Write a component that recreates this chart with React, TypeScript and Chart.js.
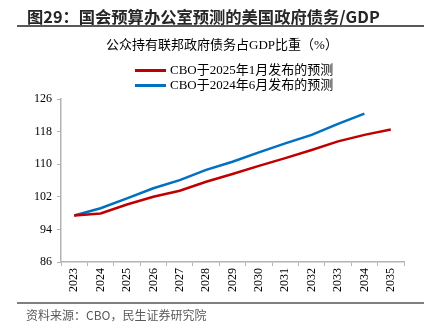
import React, { useEffect, useRef } from "react";
import { Chart, registerables } from "chart.js";

Chart.register(...registerables);

const years = ["2023","2024","2025","2026","2027","2028","2029","2030","2031","2032","2033","2034","2035"];
const jan2025 = [97.4, 97.9, 100.1, 102.0, 103.5, 105.7, 107.6, 109.6, 111.5, 113.5, 115.6, 117.2, 118.5];
const jun2024 = [97.4, 99.2, 101.6, 104.1, 106.1, 108.6, 110.6, 112.9, 115.1, 117.2, 119.9, 122.4, null];
const seriesNames = ["CBO于2025年1月发布的预测", "CBO于2024年6月发布的预测"];
const seriesColors = ["#C00000", "#0070C0"];
const yTicks = [86, 94, 102, 110, 118, 126];

const mainTitle = "图29：国会预算办公室预测的美国政府债务/GDP";
const chartTitle = "公众持有联邦政府债务占GDP比重（%）";
const source = "资料来源：CBO，民生证券研究院";

const serif = "'Liberation Serif', 'Times New Roman', 'Noto Sans CJK SC', serif";
const sans = "'Noto Sans CJK SC', 'Noto Sans', sans-serif";

export default function App() {
  const ref = useRef<HTMLCanvasElement | null>(null);

  useEffect(() => {
    if (!ref.current) return;
    const axisColor = "#b3b3b3";
    const chart = new Chart(ref.current, {
      type: "line",
      data: {
        labels: years,
        datasets: [
          {
            label: seriesNames[0],
            data: jan2025,
            borderColor: seriesColors[0],
            backgroundColor: seriesColors[0],
            borderWidth: 2.5,
            pointRadius: 0,
            tension: 0,
            fill: false,
          },
          {
            label: seriesNames[1],
            data: jun2024,
            borderColor: seriesColors[1],
            backgroundColor: seriesColors[1],
            borderWidth: 2.5,
            pointRadius: 0,
            tension: 0,
            fill: false,
          },
        ],
      },
      options: {
        responsive: false,
        animation: false,
        events: [],
        layout: { padding: { left: 0, top: 99, right: 29, bottom: 31 } },
        plugins: {
          legend: { display: false },
          title: { display: false },
          tooltip: { enabled: false },
        },
        scales: {
          x: {
            type: "category",
            offset: true,
            grid: {
              display: true,
              offset: true,
              drawOnChartArea: false,
              drawTicks: true,
              tickLength: 4,
              color: axisColor,
            },
            border: { display: true, color: axisColor, width: 1.5 },
            ticks: {
              autoSkip: false,
              maxRotation: 90,
              minRotation: 90,
              padding: 2,
              color: "#000",
              font: { family: serif, size: 12 },
            },
            afterFit: (s: any) => {
              s.height = 40;
            },
          },
          y: {
            min: 86,
            max: 126,
            afterBuildTicks: (s: any) => {
              s.ticks = yTicks.map((v) => ({ value: v }));
            },
            grid: {
              display: true,
              drawOnChartArea: false,
              drawTicks: true,
              tickLength: 4,
              color: axisColor,
            },
            border: { display: true, color: axisColor, width: 1.5 },
            ticks: {
              padding: 5,
              color: "#000",
              font: { family: serif, size: 12 },
            },
            afterFit: (s: any) => {
              s.width = 61;
            },
          },
        },
      },
    });
    return () => chart.destroy();
  }, []);

  return (
    <div style={{ position: "fixed", left: 0, top: 0, width: 433, height: 333, background: "#fff", overflow: "hidden" }}>
      <canvas ref={ref} width={433} height={333} style={{ position: "absolute", left: 0, top: 0, width: 433, height: 333 }} />
      <div style={{ position: "absolute", left: 27, top: 6, height: 20, lineHeight: "20px", fontFamily: sans, fontWeight: 700, fontSize: 16.3, color: "#262626", whiteSpace: "nowrap" }}>
        {mainTitle}
      </div>
      <div style={{ position: "absolute", left: 17, top: 25, width: 407, height: 2, background: "#595959" }} />
      <div style={{ position: "absolute", left: 22, width: 400, top: 35, height: 20, lineHeight: "20px", textAlign: "center", fontFamily: serif, fontSize: 13, color: "#000", whiteSpace: "nowrap" }}>
        {chartTitle}
      </div>
      {seriesNames.map((n, i) => (
        <div key={n} style={{ position: "absolute", left: 135, top: 61 + i * 15, height: 18, display: "flex", alignItems: "center", whiteSpace: "nowrap" }}>
          <div style={{ width: 31, height: 3, background: seriesColors[i] }} />
          <div style={{ marginLeft: 4, fontFamily: serif, fontSize: 13, lineHeight: "18px", color: "#000" }}>{n}</div>
        </div>
      ))}
      <div style={{ position: "absolute", left: 17, top: 302, width: 407, height: 2, background: "#7f7f7f" }} />
      <div style={{ position: "absolute", left: 26, top: 306, height: 18, lineHeight: "18px", fontFamily: sans, fontSize: 12, color: "#595959", whiteSpace: "nowrap" }}>
        {source}
      </div>
    </div>
  );
}
